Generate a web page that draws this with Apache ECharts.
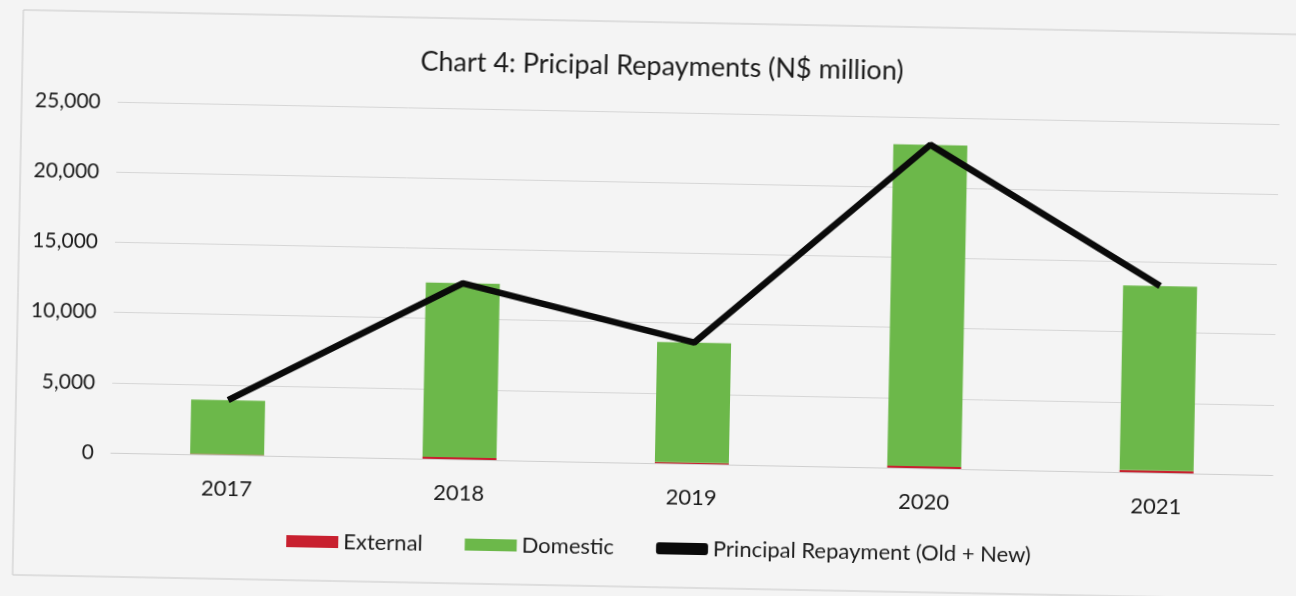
<!DOCTYPE html>
<html>
<head>
<meta charset="utf-8">
<script src="https://cdn.jsdelivr.net/npm/echarts@6/dist/echarts.min.js"></script>
<style>
  html, body { margin: 0; padding: 0; background: #f4f4f4; overflow: hidden; }
  #chart { width: 1296px; height: 596px; transform: rotate(1.1deg); transform-origin: 648px 298px; }
</style>
</head>
<body>
<div id="chart"></div>
<script>
// Principal repayments by year, N$ million
const years = ['2017', '2018', '2019', '2020', '2021'];
const external = [40, 150, 90, 150, 160];
const domestic = [3860, 12400, 8550, 22900, 13150];
const totalRepayment = [3900, 12550, 8640, 23050, 13310];
const yTicks = [0, 5000, 10000, 15000, 20000, 25000];

const FONT = 'Lato, "Open Sans", sans-serif';
const TEXT = '#1c1c1c';
const chart = echarts.init(document.getElementById('chart'));

chart.setOption({
  backgroundColor: 'transparent',
  animation: false,
  textStyle: { fontFamily: FONT },
  title: {
    text: 'Chart 4: Pricipal Repayments (N$ million)',
    left: 411,
    top: 48,
    textStyle: { fontFamily: FONT, fontSize: 27, fontWeight: 'normal', color: TEXT }
  },
  graphic: [{
    type: 'rect',
    shape: { x: 18, y: 22, width: 1320, height: 565 },
    style: { fill: 'none', stroke: '#c8c8c8', lineWidth: 1 },
    silent: true
  }],
  legend: {
    bottom: 32,
    left: 286,
    itemGap: 42,
    itemWidth: 52,
    itemHeight: 12,
    textStyle: { fontFamily: FONT, fontSize: 22, color: TEXT },
    data: [
      { name: 'External', icon: 'rect' },
      { name: 'Domestic', icon: 'rect' },
      { name: 'Principal Repayment (Old + New)', icon: 'roundRect' }
    ]
  },
  grid: { left: 114, right: 20, top: 112, bottom: 133, containLabel: false },
  xAxis: {
    type: 'category',
    data: years,
    axisLine: { show: true, lineStyle: { color: '#cfcfcf', width: 1 } },
    axisTick: { show: false },
    axisLabel: { fontFamily: FONT, fontSize: 22, color: TEXT, margin: 23 }
  },
  yAxis: {
    type: 'value',
    min: yTicks[0],
    max: yTicks[yTicks.length - 1],
    interval: 5000,
    axisLine: { show: false },
    axisTick: { show: false },
    splitLine: { lineStyle: { color: '#d6d6d6', width: 1 } },
    axisLabel: {
      fontFamily: FONT, fontSize: 21, color: TEXT, margin: 17,
      formatter: v => v.toLocaleString('en-US')
    }
  },
  series: [
    {
      name: 'External',
      type: 'bar',
      stack: 'repay',
      barWidth: 74,
      itemStyle: { color: '#c8202f' },
      data: external
    },
    {
      name: 'Domestic',
      type: 'bar',
      stack: 'repay',
      barWidth: 74,
      itemStyle: { color: '#6cb84a' },
      data: domestic
    },
    {
      name: 'Principal Repayment (Old + New)',
      type: 'line',
      symbol: 'none',
      lineStyle: { color: '#0a0a0a', width: 6.5 },
      itemStyle: { color: '#0a0a0a' },
      data: totalRepayment,
      z: 5
    }
  ]
});
</script>
</body>
</html>
